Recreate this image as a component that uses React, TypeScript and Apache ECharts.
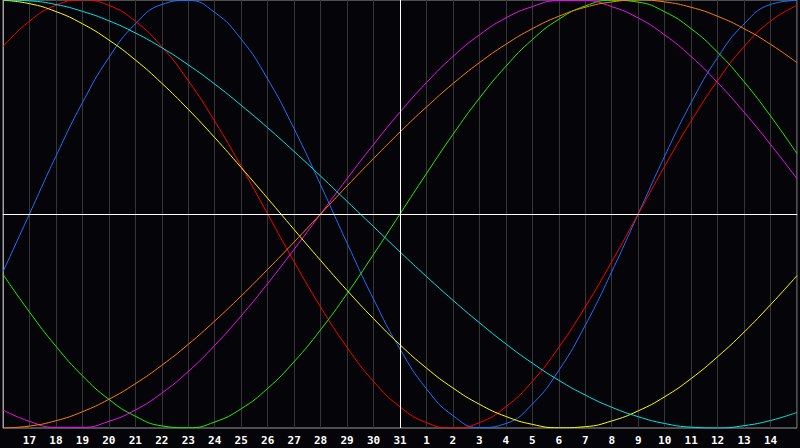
import React, { useEffect, useRef } from 'react';
import * as echarts from 'echarts';

// days shown, 16th of last month to 15th of this one
const days = [
  '16', '17', '18', '19', '20', '21', '22', '23', '24', '25', '26', '27', '28', '29', '30', '31',
  '1', '2', '3', '4', '5', '6', '7', '8', '9', '10', '11', '12', '13', '14', '15',
];
const today = '31';

// rhythm values in percent, one per day
const physical = [
  -27.0, 0, 27.0, 52.0, 73.1, 88.8, 97.9, 99.8, 94.2, 81.7, 63.1, 39.8, 13.6, -13.6, -39.8, -63.1,
  -81.7, -94.2, -99.8, -97.9, -88.8, -73.1, -52.0, -27.0, 0, 27.0, 52.0, 73.1, 88.8, 97.9, 99.8,
];
const emotional = [
  78.2, 90.1, 97.5, 100, 97.5, 90.1, 78.2, 62.3, 43.4, 22.3, 0, -22.3, -43.4, -62.3, -78.2, -90.1,
  -97.5, -100, -97.5, -90.1, -78.2, -62.3, -43.4, -22.3, 0, 22.3, 43.4, 62.3, 78.2, 90.1, 97.5,
];
const intellectual = [
  -28.2, -45.8, -61.8, -75.6, -86.6, -94.5, -99.0, -99.9, -97.2, -91.0, -81.5, -69.0, -54.1, -37.2, -18.9, 0,
  18.9, 37.2, 54.1, 69.0, 81.5, 91.0, 97.2, 99.9, 99.0, 94.5, 86.6, 75.6, 61.8, 45.8, 28.2,
];
const intuitive = [
  -91.6, -96.9, -99.7, -99.7, -96.9, -91.6, -83.7, -73.6, -61.4, -47.6, -32.5, -16.5, 0, 16.5, 32.5, 47.6,
  61.4, 73.6, 83.7, 91.6, 96.9, 99.7, 99.7, 96.9, 91.6, 83.7, 73.6, 61.4, 47.6, 32.5, 16.5,
];
const aesthetic = [
  99.9, 98.3, 94.6, 88.9, 81.3, 72.0, 61.1, 48.9, 35.7, 21.7, 7.3, -7.3, -21.7, -35.7, -48.9, -61.1,
  -72.0, -81.3, -88.9, -94.6, -98.3, -99.9, -99.4, -96.7, -92.0, -85.4, -76.9, -66.7, -55.2, -42.4, -28.8,
];
const awareness = [
  -100, -99.1, -96.6, -92.4, -86.6, -79.3, -70.7, -60.9, -50, -38.3, -25.9, -13.1, 0, 13.1, 25.9, 38.3,
  50, 60.9, 70.7, 79.3, 86.6, 92.4, 96.6, 99.1, 100, 99.1, 96.6, 92.4, 86.6, 79.3, 70.7,
];
const spiritual = [
  100, 99.6, 97.9, 94.7, 90.3, 84.6, 77.7, 69.7, 60.7, 50.8, 40.3, 29.2, 17.7, 5.9, -5.9, -17.7,
  -29.2, -40.3, -50.8, -60.7, -69.7, -77.7, -84.6, -90.3, -94.7, -97.9, -99.6, -100, -98.9, -96.5, -92.7,
];

const rhythms = [
  { name: 'Physical', data: physical, color: '#2070ff' },
  { name: 'Emotional', data: emotional, color: '#ff0000' },
  { name: 'Intellectual', data: intellectual, color: '#22f000' },
  { name: 'Intuitive', data: intuitive, color: '#f010f0' },
  { name: 'Aesthetic', data: aesthetic, color: '#ffff00' },
  { name: 'Awareness', data: awareness, color: '#ff8000' },
  { name: 'Spiritual', data: spiritual, color: '#00e8e8' },
];

const App: React.FC = () => {
  const chartRef = useRef<HTMLDivElement>(null);

  useEffect(() => {
    document.body.style.margin = '0';
    document.body.style.background = '#050408';
    if (!chartRef.current) return;
    const chart = echarts.init(chartRef.current, undefined, { renderer: 'svg' });

    const series: any[] = rhythms.map((r) => ({
      name: r.name,
      type: 'line',
      data: r.data,
      smooth: true,
      symbol: 'none',
      lineStyle: { color: r.color, width: 1 },
      itemStyle: { color: r.color },
    }));

    // today marker and zero line
    series.push({
      name: 'markers',
      type: 'line',
      data: [],
      symbol: 'none',
      z: 5,
      markLine: {
        silent: true,
        symbol: 'none',
        label: { show: false },
        lineStyle: { color: '#ffffff', width: 1, type: 'solid' },
        data: [{ xAxis: today }, { yAxis: 0 }],
      },
    });

    const option = {
      animation: false,
      backgroundColor: '#050408',
      grid: {
        left: 0,
        right: 0,
        top: 0,
        bottom: 20,
        show: true,
        borderColor: '#9a9a9a',
        borderWidth: 1,
      },
      xAxis: {
        type: 'category',
        data: days,
        boundaryGap: false,
        axisLine: { show: true, lineStyle: { color: '#a0a0a0', width: 1 } },
        axisTick: { show: false },
        splitLine: { show: true, lineStyle: { color: '#363636', width: 1 } },
        axisLabel: {
          interval: 0,
          color: '#ffffff',
          fontFamily: 'DejaVu Sans Mono',
          fontWeight: 'bold',
          fontSize: 11,
          margin: 7,
          formatter: (value: string, index: number) =>
            index === 0 || index === days.length - 1 ? '' : value,
        },
      },
      yAxis: {
        type: 'value',
        min: -100,
        max: 100,
        axisLine: { show: true, lineStyle: { color: '#a0a0a0' } },
        axisTick: { show: false },
        axisLabel: { show: false },
        splitLine: { show: false },
      },
      series,
    };

    chart.setOption(option as any);

    return () => {
      chart.dispose();
    };
  }, []);

  return <div ref={chartRef} style={{ width: 800, height: 448 }} />;
};

export default App;
